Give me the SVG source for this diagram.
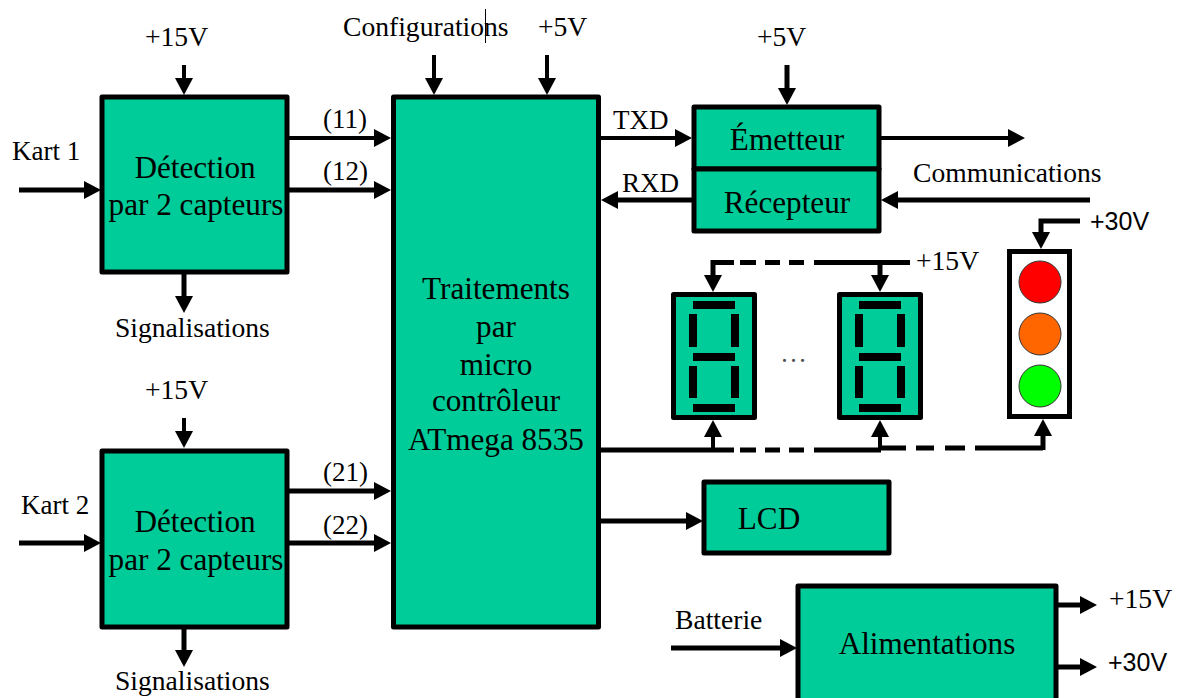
<svg xmlns="http://www.w3.org/2000/svg" width="1180" height="698" viewBox="0 0 1180 698">
<style>
text{font-family:"Liberation Serif","Times New Roman",serif;fill:#000}
.l{font-size:27.600px}
.k{font-size:27px}
.n{font-size:31.200px;text-anchor:middle}
.s{font-family:"Liberation Sans",Arial,sans-serif;font-size:25px}
.b{fill:#00CC99;stroke:#000;stroke-width:5;stroke-linejoin:round}
.c{fill:none;stroke:#000;stroke-width:4}
.t{fill:none;stroke:#000;stroke-width:5}
.a{marker-end:url(#h)}
.seg{fill:#000}
.o{fill:none;stroke:#000;stroke-width:1}
</style>
<defs>
<marker id="h" markerUnits="userSpaceOnUse" markerWidth="20" markerHeight="20" refX="3" refY="10" orient="auto" viewBox="0 0 20 20"><path d="M1 1L18 10L1 19Z" fill="#000"/></marker>
<g id="digit">
<rect class="b" x="673.500" y="294.500" width="81" height="123"/>
<rect class="seg" x="693" y="301" width="42" height="8"/><rect class="seg" x="693" y="353" width="42" height="8"/><rect class="seg" x="693" y="404" width="42" height="8"/>
<rect class="seg" x="689" y="314" width="8" height="33"/><rect class="seg" x="731" y="314" width="8" height="33"/><rect class="seg" x="689" y="366" width="8" height="32"/><rect class="seg" x="731" y="366" width="8" height="32"/>
</g>
</defs>
<g id="connectors">
<path class="t a" d="M19 190H86"/>
<path class="c a" d="M184 65V80"/>
<path class="t a" d="M184 273V298"/>
<path class="c a" d="M288 138H376"/>
<path class="t a" d="M288 190H376"/>
<path class="c a" d="M434 55V80"/>
<path class="c a" d="M547 55V80"/>
<path class="c a" d="M600 138H677"/>
<path class="t a" d="M692 200H616"/>
<path class="c a" d="M880 138H1010"/>
<path class="t a" d="M1090 200H896"/>
<path class="t a" d="M787 65V90"/>
<path class="t a" d="M1080 221H1041V234"/>
<path class="t" d="M713 262.500H734M740 262.500H756M765 262.500H780M789 262.500H804M814 262.500H910"/>
<path class="t a" d="M713 260V277"/>
<path class="t a" d="M880 262.500V277"/>
<path class="t" d="M600 450H734M740 450H756M765 450H780M789 450H804M814 450H881M880 448H906M916 448H934M945 448H965M975 448H1043"/>
<path class="c a" d="M713 450V435"/>
<path class="c a" d="M880 450V435"/>
<path class="t a" d="M1043 450V434"/>
<path class="c a" d="M184 418V433"/>
<path class="t a" d="M19 543H86"/>
<path class="t a" d="M288 491H376"/>
<path class="t a" d="M288 543H376"/>
<path class="t a" d="M184 627V652"/>
<path class="t a" d="M600 521H688"/>
<path class="t a" d="M671 648H782"/>
<path class="t a" d="M1056 605H1082"/>
<path class="t a" d="M1056 667H1082"/>
</g>
<g id="det1"><rect class="b" x="102" y="97" width="185" height="175"/><text class="n" x="195" y="178">Détection</text><text class="n" x="196" y="215">par 2 capteurs</text></g>
<g id="det2"><rect class="b" x="102" y="451" width="185" height="176"/><text class="n" x="195" y="532">Détection</text><text class="n" x="196" y="570">par 2 capteurs</text></g>
<g id="mcu"><rect class="b" x="393.500" y="97" width="205" height="530"/>
<text class="n" x="496" y="299">Traitements</text><text class="n" x="496" y="337">par</text><text class="n" x="496" y="375">micro</text><text class="n" x="496" y="411">contrôleur</text><text class="n" x="496" y="450">ATmega 8535</text></g>
<g id="emetteur"><rect class="b" x="694" y="107" width="185" height="62"/><text class="n" x="787" y="150">Émetteur</text></g>
<g id="recepteur"><rect class="b" x="694" y="169" width="185" height="62"/><text class="n" x="787" y="213">Récepteur</text></g>
<g id="digit1"><use href="#digit"/></g>
<g id="digit2"><use href="#digit" x="166"/></g>
<g id="feu"><rect x="1009.500" y="251.500" width="60" height="165" fill="#fff" stroke="#000" stroke-width="5"/>
<circle cx="1040" cy="282" r="21" fill="#f00" stroke="#333"/><circle cx="1040" cy="334" r="21" fill="#f60" stroke="#333"/><circle cx="1040" cy="386" r="21" fill="#0f0" stroke="#333"/></g>
<g id="lcd"><rect class="b" x="704" y="482" width="185" height="71"/><text class="n" x="769" y="529">LCD</text></g>
<g id="alim"><rect class="b" x="798" y="586" width="258" height="116"/><text class="n" x="927" y="654">Alimentations</text></g>
<g id="labels">
<text class="l" x="145" y="46">+15V</text>
<text class="l" x="343" y="36">Configurations</text>
<path class="o" d="M485.500 9V43"/>
<text class="l" x="538" y="36">+5V</text>
<text class="l" x="757" y="46">+5V</text>
<text class="k" x="12" y="160">Kart 1</text>
<text class="k" x="323" y="128">(11)</text>
<text class="k" x="323" y="180">(12)</text>
<text class="k" x="613" y="129">TXD</text>
<text class="k" x="622" y="192">RXD</text>
<text class="l" x="913" y="182">Communications</text>
<text class="s" x="1090" y="230">+30V</text>
<text class="l" x="916" y="270">+15V</text>
<text class="k" x="780" y="362" fill-opacity="0.7">…</text>
<text class="l" x="115" y="337">Signalisations</text>
<text class="l" x="145" y="399">+15V</text>
<text class="k" x="21" y="514">Kart 2</text>
<text class="k" x="323" y="481">(21)</text>
<text class="k" x="323" y="534">(22)</text>
<text class="l" x="115" y="690">Signalisations</text>
<text class="l" x="675" y="629">Batterie</text>
<text class="l" x="1109" y="608">+15V</text>
<text class="s" x="1108" y="671">+30V</text>
</g>
</svg>
